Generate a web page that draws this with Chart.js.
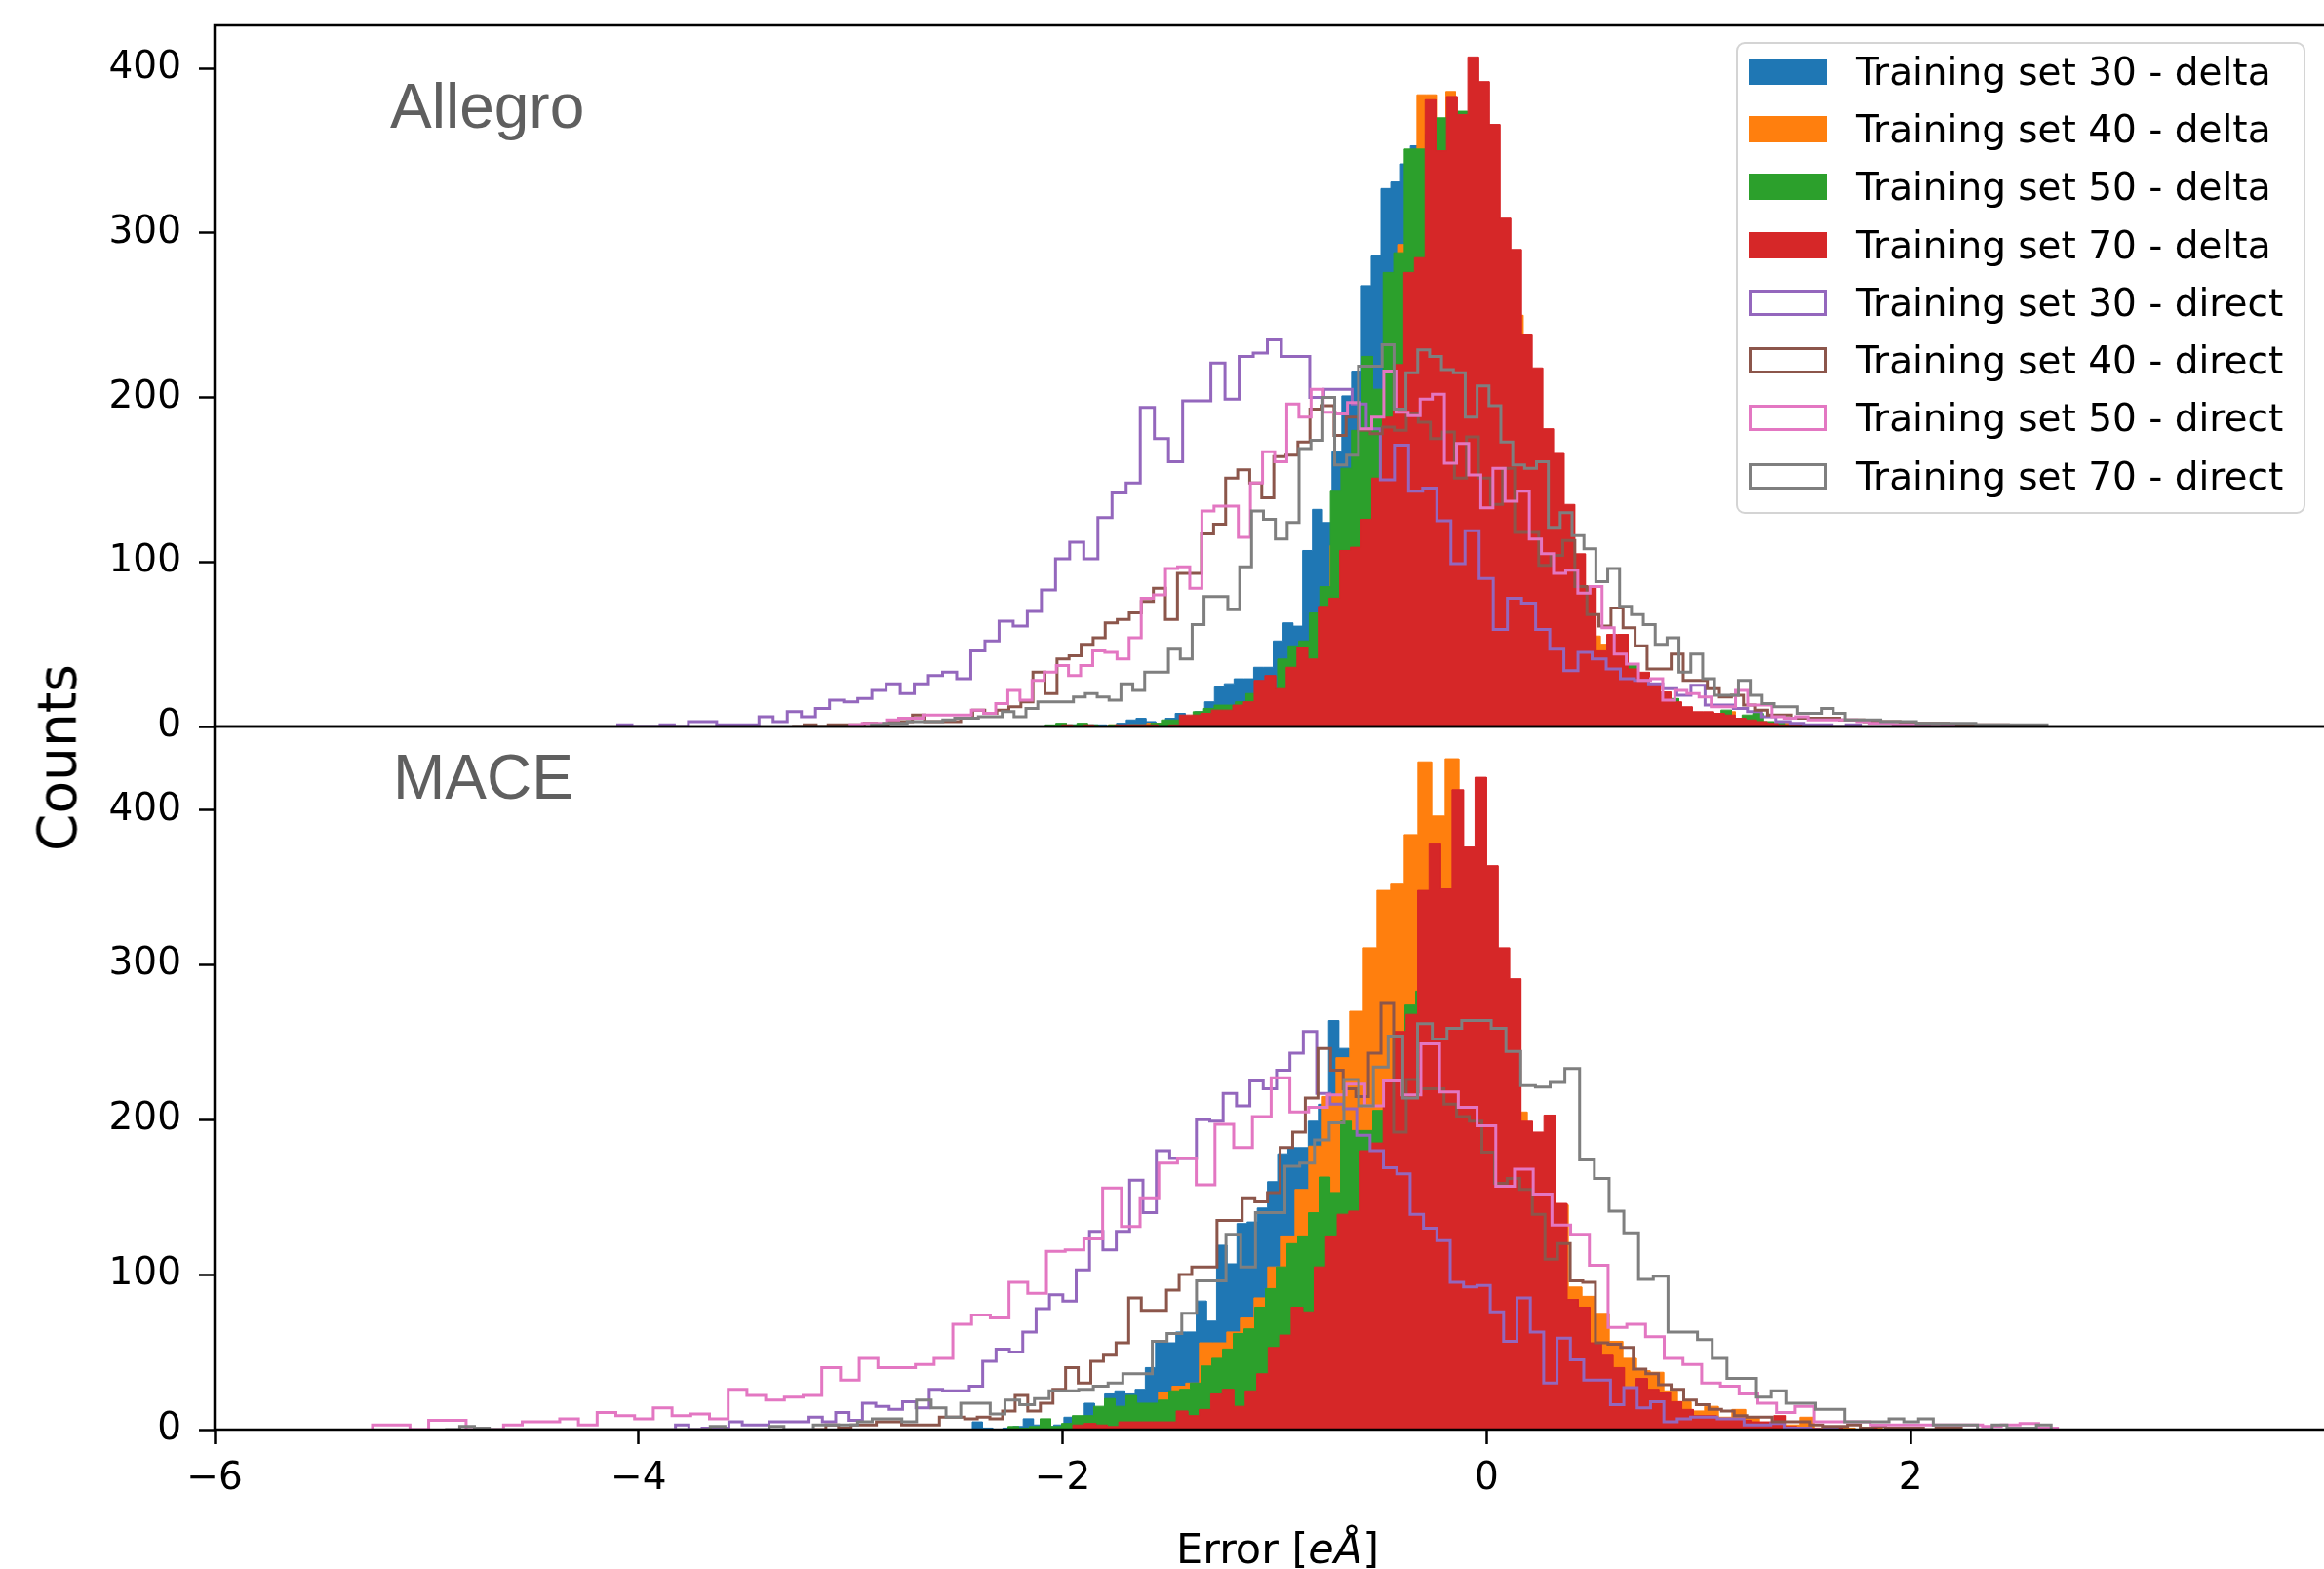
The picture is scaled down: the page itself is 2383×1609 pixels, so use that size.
<!DOCTYPE html>
<html>
<head>
<meta charset="utf-8">
<script src="https://cdn.jsdelivr.net/npm/chart.js@4.4.0/dist/chart.umd.min.js"></script>
<style>
html,body{margin:0;padding:0;background:#fff;overflow:hidden;}
#wrap{position:relative;width:2383px;height:1609px;overflow:hidden;background:#fff;}
canvas{position:absolute;left:0;}
.txt{position:absolute;white-space:nowrap;line-height:1;}
#legend{position:absolute;left:1780px;top:43px;width:584px;height:484px;box-sizing:border-box;
  border:2px solid #d4d4d4;border-radius:9px;background:rgba(255,255,255,0.85);}
.lrow{position:absolute;left:0;height:59px;width:100%;}
.lbox{position:absolute;left:11px;top:16px;width:80px;height:27px;box-sizing:border-box;}
.ltxt{position:absolute;left:121px;top:0;height:59px;line-height:59px;font-family:'DejaVu Sans';font-size:39px;color:#000;white-space:nowrap;}
</style>
</head>
<body>
<div id="wrap">
  <canvas id="cTop" width="2420" height="807" style="top:-20px"></canvas>
  <canvas id="cBot" width="2420" height="909" style="top:700px"></canvas>
  <div id="tAllegro" class="txt" style="left:400px;top:77px;font-family:'Liberation Sans';font-size:64px;color:#5f5f5f;"></div>
  <div id="tMace" class="txt" style="left:403px;top:765px;font-family:'Liberation Sans';font-size:64px;color:#5f5f5f;"></div>
  <div id="yTitle" class="txt" style="left:59px;top:777px;font-family:'DejaVu Sans';font-size:55px;color:#000;transform:translate(-50%,-50%) rotate(-90deg);"></div>
  <div id="xTitle" class="txt" style="left:1310px;top:1567px;font-family:'DejaVu Sans';font-size:43px;color:#000;transform:translateX(-50%);"></div>
  <div id="legend"></div>
</div>
<script>
// ---------------- data ----------------
const seriesLabels = [
  'Training set 30 - delta', 'Training set 40 - delta', 'Training set 50 - delta', 'Training set 70 - delta',
  'Training set 30 - direct', 'Training set 40 - direct', 'Training set 50 - direct', 'Training set 70 - direct'
];
const panelTitles = ['Allegro', 'MACE'];
const axisTitles = { x: ['Error [', 'eÅ', ']'], y: 'Counts' };
const xTickValues = [-6, -4, -2, 0, 2, 4];
const yTickValues = [0, 100, 200, 300, 400];

// first bin edge and bin width of every histogram (same order as seriesLabels)
const allegroBinStart = [-1.977, -1.785, -2.082, -2.004, -4.098, -3.276, -3.002, -2.901];
const allegroBinWidth = [0.0462, 0.0455, 0.0498, 0.0504, 0.0666, 0.0568, 0.0572, 0.056];
const maceBinStart    = [-2.426, -1.999, -2.258, -1.952, -3.826, -3.176, -5.255, -4.913];
const maceBinWidth    = [0.048, 0.0644, 0.0506, 0.0542, 0.063, 0.0595, 0.0883, 0.0695];

// counts per bin — Allegro
const allegroDelta30 = [1,0,1,1,0,2,4,5,3,2,5,8,5,9,15,24,26,29,29,36,36,52,63,61,107,132,124,167,201,216,268,286,327,331,342,353,350,330,310,290,260,235,200,175,150,125,105,85,70,55,45,35,27,20,15,11,8,6,4,3,2,2,1,1,1,0,1];
const allegroDelta40 = [1,0,1,1,2,2,2,3,3,4,5,7,8,10,12,15,18,22,35,40,48,60,80,110,135,150,170,190,200,265,293,340,384,384,355,386,360,370,350,330,300,280,250,215,190,160,140,115,95,75,55,50,40,32,25,20,16,12,9,7,6,5,5,4,9,4,3,2,2,1,2,1,0,1];
const allegroDelta50 = [1,2,1,2,1,0,1,0,1,1,2,4,4,6,9,11,13,13,15,20,20,23,41,49,52,69,85,143,157,180,225,205,276,288,351,351,360,370,365,374,360,345,320,290,255,225,195,160,135,110,85,65,45,40,36,38,28,22,20,17,11,8,6,8,10,5,7,8,3,2,1,1,0,1];
const allegroDelta70 = [1,0,1,0,0,1,1,1,1,0,1,7,7,8,10,10,13,15,28,31,23,36,48,41,73,78,107,109,126,151,188,220,276,285,381,350,383,372,407,392,366,309,290,238,218,181,166,135,105,85,46,56,56,35,33,26,21,15,12,9,9,8,7,5,4,3,2,1,1,1,0,1];
const allegroDirect30 = [1,0,0,1,0,3,3,1,1,1,6,3,9,6,11,16,15,17,22,26,20,26,31,33,29,46,52,64,61,70,83,102,112,102,127,142,148,194,175,161,198,198,221,199,225,227,235,225,225,200,205,205,196,181,150,171,143,145,125,99,119,90,59,78,75,59,47,34,45,41,35,29,28,26,23,19,25,13,13,11,9,6,3,2,1,1,0,1];
const allegroDirect40 = [0,1,0,1,1,1,2,1,3,3,7,3,3,3,5,10,8,10,12,15,33,20,41,43,50,54,63,65,69,76,84,65,93,93,117,123,151,156,148,139,164,165,173,193,195,177,188,180,178,182,180,190,185,175,179,151,176,151,135,157,118,118,98,104,113,85,68,61,72,60,49,35,35,44,28,28,23,18,19,13,10,7,7,5,5,5,5,4,4,3,3,3,2,2,2,2,1,1,1,1,1];
const allegroDirect50 = [1,2,2,4,5,5,7,7,7,7,10,8,14,22,16,28,33,37,31,37,46,45,41,54,78,80,96,97,84,131,134,134,115,148,167,161,196,188,205,191,190,197,181,188,216,191,189,199,202,160,172,153,133,157,137,143,114,105,93,95,81,85,60,44,38,28,29,16,22,20,18,12,12,22,13,13,6,5,6,4,4,4,4,3,2,2,1,1,1,0,1];
const allegroDirect70 = [1,2,2,3,3,3,4,5,5,6,6,9,6,11,15,15,15,18,20,18,16,26,22,33,33,47,41,62,79,79,71,97,131,126,114,124,169,174,200,159,165,219,219,232,193,215,229,225,217,215,188,207,195,173,159,157,161,121,130,116,108,88,96,73,68,62,50,54,33,44,29,19,19,28,19,14,12,12,8,8,11,8,4,4,4,3,3,3,2,2,2,2,2,1,1,1,1,1,1];

// counts per bin — MACE
const maceDelta30 = [5,1,0,1,2,7,3,2,3,8,8,17,13,23,25,23,26,40,56,56,63,63,83,70,119,107,133,134,143,160,178,182,182,199,210,264,246,235,240,250,255,250,240,230,215,200,185,170,150,130,110,95,80,65,52,42,33,25,18,13,9,6,4,3,2,1,1,0,1];
const maceDelta40 = [1,4,3,4,6,10,15,24,28,30,56,56,63,72,85,105,125,155,183,215,240,270,311,348,352,384,431,396,433,370,350,300,270,205,185,170,145,92,86,75,57,46,38,37,25,18,12,15,8,13,8,4,3,3,8,1,0,1,0,1];
const maceDelta50 = [2,1,2,7,2,4,9,9,15,20,15,22,17,17,19,25,26,30,41,46,52,62,65,79,91,105,120,125,140,163,153,199,193,193,206,215,250,274,283,300,300,310,300,290,270,250,230,190,160,140,120,100,75,60,48,38,30,23,18,13,10,7,5,4,3,2,2,1];
const maceDelta70 = [3,4,3,2,5,5,5,5,5,12,9,13,23,26,15,25,36,53,61,79,76,105,125,139,141,180,185,226,257,268,348,378,349,413,376,421,364,311,291,199,192,203,146,84,79,56,48,40,27,33,26,24,18,13,9,9,7,7,6,5,5,9,2,1,1,0,1,0,0,1];
const maceDirect30 = [3,0,1,1,5,3,3,5,5,5,8,5,11,6,17,15,13,18,14,26,25,25,28,44,52,50,63,78,87,83,103,128,116,128,161,140,180,175,175,200,199,217,209,225,220,232,243,257,217,210,207,190,180,169,165,139,130,122,95,92,93,76,57,85,63,30,59,45,32,32,16,27,14,18,5,7,8,8,7,7,3,3,4,1,1,0,1];
const maceDirect40 = [0,3,1,3,3,5,5,3,3,3,8,8,7,8,7,12,22,12,17,26,40,30,44,48,56,85,77,77,90,100,105,105,135,135,149,147,153,182,192,214,246,232,220,215,243,275,192,226,220,220,210,202,199,179,159,162,155,139,110,120,96,95,56,55,53,39,36,29,26,19,16,13,12,9,8,8,5,5,5,3,2,2,3,1,2,1,1,1,0,1,1];
const maceDirect50 = [3,3,0,6,6,0,0,3,5,5,7,3,11,9,7,14,9,10,7,26,22,19,21,22,40,32,46,40,40,42,46,68,74,72,95,88,115,116,123,156,131,149,172,175,158,197,182,202,227,205,208,216,223,209,225,216,249,218,208,196,157,168,152,132,126,106,66,68,60,46,42,30,28,23,17,11,15,5,5,5,3,3,3,3,3,3,2,3,4,1];
const maceDirect70 = [0,2,1,0,0,0,0,0,0,0,0,0,0,0,0,0,0,0,2,0,0,0,2,0,0,3,3,3,5,7,7,5,19,14,8,17,17,10,19,16,20,25,25,26,28,30,36,36,57,62,75,96,96,126,105,140,140,170,172,187,198,226,209,234,254,214,262,252,259,264,264,259,244,222,221,224,233,174,162,141,127,97,99,63,63,58,46,33,33,21,25,17,17,13,13,5,5,5,7,5,7,3,3,3,0,3,1,1,3];

const allegroCounts = [allegroDelta30, allegroDelta40, allegroDelta50, allegroDelta70, allegroDirect30, allegroDirect40, allegroDirect50, allegroDirect70];
const maceCounts = [maceDelta30, maceDelta40, maceDelta50, maceDelta70, maceDirect30, maceDirect40, maceDirect50, maceDirect70];

// ---------------- style ----------------
const seriesColors = ['#1f77b4', '#ff7f0e', '#2ca02c', '#d62728', '#9467bd', '#8c564b', '#e377c2', '#7f7f7f'];
const seriesFilled = [true, true, true, true, false, false, false, false];
const FONT = 'DejaVu Sans';

// histogram outline (matplotlib "step"/"stepfilled") from bin edges and counts
function outline(start, width, counts) {
  const pts = [{ x: start, y: 0 }];
  counts.forEach((c, i) => {
    const a = start + i * width;
    pts.push({ x: a, y: c });
    pts.push({ x: a + width, y: c });
  });
  pts.push({ x: start + counts.length * width, y: 0 });
  return pts;
}

function makeDatasets(starts, widths, counts) {
  return counts.map((c, i) => ({
    label: seriesLabels[i],
    data: outline(starts[i], widths[i], c),
    borderColor: seriesColors[i],
    backgroundColor: seriesColors[i],
    borderWidth: seriesFilled[i] ? 1 : 3,
    fill: seriesFilled[i] ? 'origin' : false,
    pointRadius: 0,
    tension: 0,
    order: 8 - i,
    borderJoinStyle: 'miter'
  }));
}

const spines = {
  id: 'spines',
  afterDatasetsDraw(chart) {
    const { ctx, chartArea: a } = chart;
    ctx.save();
    ctx.strokeStyle = '#000';
    ctx.lineWidth = 2.5;
    ctx.strokeRect(a.left, a.top, a.right - a.left, a.bottom - a.top);
    ctx.restore();
  }
};

const minusFmt = v => (v < 0 ? '\u2212' + Math.abs(v) : String(v));

function yScale(max) {
  return {
    type: 'linear', min: 0, max: max,
    afterBuildTicks: s => { s.ticks = yTickValues.map(v => ({ value: v })); },
    afterFit: s => { s.width = 220; },
    grid: { display: true, drawOnChartArea: false, drawTicks: true, tickLength: 16, tickWidth: 2.5, tickColor: '#000', color: '#000' },
    border: { display: false },
    ticks: { color: '#000', font: { family: FONT, size: 39 }, padding: 18, callback: minusFmt }
  };
}

function xScale(show) {
  return {
    type: 'linear', min: -6, max: 4, position: 'bottom', display: show,
    afterBuildTicks: s => { s.ticks = xTickValues.map(v => ({ value: v })); },
    afterFit: s => { if (show) s.height = 143; },
    grid: { display: true, drawOnChartArea: false, drawTicks: true, tickLength: 15, tickWidth: 2.5, tickColor: '#000', color: '#000' },
    border: { display: false },
    ticks: { color: '#000', font: { family: FONT, size: 39 }, padding: 12, maxRotation: 0, autoSkip: false, callback: minusFmt }
  };
}

function baseOptions(yMax, showX, padding) {
  return {
    responsive: false, animation: false, devicePixelRatio: 1,
    layout: { padding: padding },
    plugins: { legend: { display: false }, tooltip: { enabled: false } },
    elements: { point: { radius: 0 }, line: { tension: 0 } },
    scales: { x: xScale(showX), y: yScale(yMax) }
  };
}

// top panel: canvas starts at page y=-20, plot area page y 26..745
new Chart(document.getElementById('cTop'), {
  type: 'line',
  data: { datasets: makeDatasets(allegroBinStart, allegroBinWidth, allegroCounts) },
  options: baseOptions(426.2, false, { top: 46, right: 26, bottom: 42, left: 0 }),
  plugins: [spines]
});

// bottom panel: canvas starts at page y=700, plot area page y 745..1466
new Chart(document.getElementById('cBot'), {
  type: 'line',
  data: { datasets: makeDatasets(maceBinStart, maceBinWidth, maceCounts) },
  options: baseOptions(453.8, true, { top: 45, right: 26, bottom: 0, left: 0 }),
  plugins: [spines]
});

// ---------------- texts ----------------
document.getElementById('tAllegro').textContent = panelTitles[0];
document.getElementById('tMace').textContent = panelTitles[1];
document.getElementById('yTitle').textContent = axisTitles.y;
const xt = document.getElementById('xTitle');
xt.append(axisTitles.x[0]);
const it = document.createElement('i'); it.textContent = axisTitles.x[1]; xt.append(it);
xt.append(axisTitles.x[2]);

const legend = document.getElementById('legend');
seriesLabels.forEach((lab, i) => {
  const row = document.createElement('div');
  row.className = 'lrow';
  row.style.top = (73.3 + i * 59.25 - 45 - 29.5) + 'px';
  const box = document.createElement('div');
  box.className = 'lbox';
  if (seriesFilled[i]) box.style.background = seriesColors[i];
  else { box.style.border = '3px solid ' + seriesColors[i]; box.style.background = '#fff'; }
  const t = document.createElement('div');
  t.className = 'ltxt';
  t.textContent = lab;
  row.appendChild(box); row.appendChild(t);
  legend.appendChild(row);
});
</script>
</body>
</html>
